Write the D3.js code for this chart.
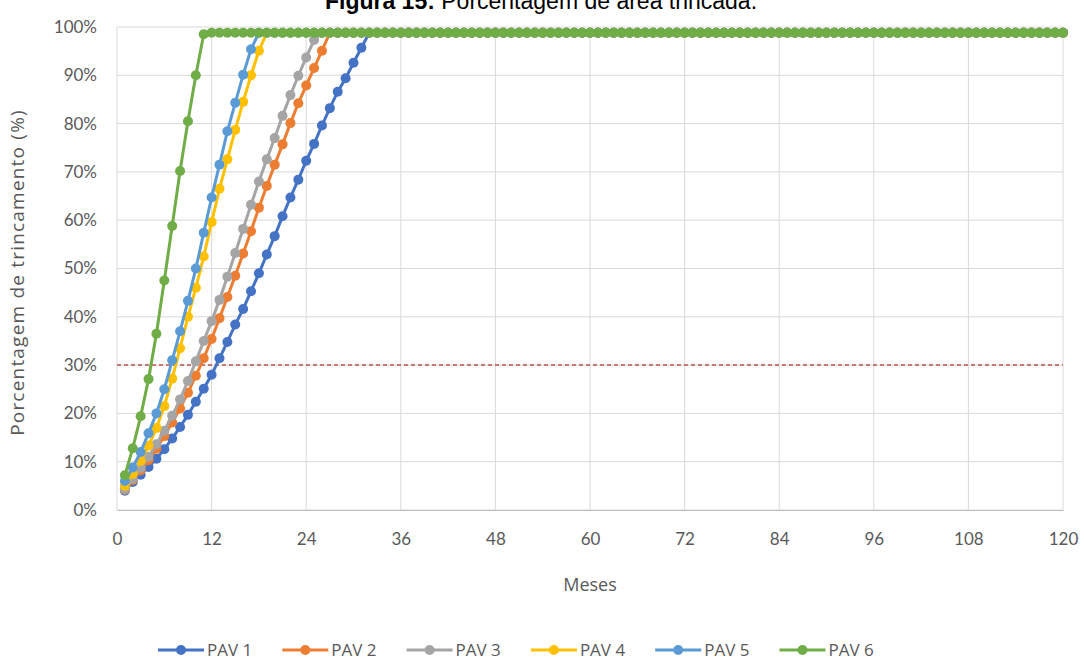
<!DOCTYPE html>
<html>
<head>
<meta charset="utf-8">
<script src="https://cdn.jsdelivr.net/npm/d3@7/dist/d3.min.js"></script>
<style>
  html, body { margin: 0; padding: 0; background: #ffffff; }
  svg { display: block; }
  text { font-family: Lato, "Open Sans", sans-serif; }
</style>
</head>
<body>
<svg id="chart" width="1084" height="663"></svg>
<script>
// ---------- DATA ----------
const seriesNames = ["PAV 1", "PAV 2", "PAV 3", "PAV 4", "PAV 5", "PAV 6"];
const seriesColors = ["#4472C4", "#ED7D31", "#A5A5A5", "#FFC000", "#5B9BD5", "#70AD47"];
const months = [
  1,2,3,4,5,6,7,8,9,10,11,12,13,14,15,16,17,18,19,20,
  21,22,23,24,25,26,27,28,29,30,31,32,33,34,35,36,37,38,39,40,
  41,42,43,44,45,46,47,48,49,50,51,52,53,54,55,56,57,58,59,60,
  61,62,63,64,65,66,67,68,69,70,71,72,73,74,75,76,77,78,79,80,
  81,82,83,84,85,86,87,88,89,90,91,92,93,94,95,96,97,98,99,100,
  101,102,103,104,105,106,107,108,109,110,111,112,113,114,115,116,117,118,119,120
];
const pav1 = [
  4.0,5.8,7.3,8.9,10.6,12.6,14.8,17.2,19.7,22.4,25.1,28.0,31.4,34.8,38.4,41.6,45.3,49.0,52.9,56.7,
  60.8,64.7,68.4,72.3,75.8,79.6,83.2,86.6,89.4,92.6,95.7,98.8,98.8,98.8,98.8,98.8,98.8,98.8,98.8,98.8,
  98.8,98.8,98.8,98.8,98.8,98.8,98.8,98.8,98.8,98.8,98.8,98.8,98.8,98.8,98.8,98.8,98.8,98.8,98.8,98.8,
  98.8,98.8,98.8,98.8,98.8,98.8,98.8,98.8,98.8,98.8,98.8,98.8,98.8,98.8,98.8,98.8,98.8,98.8,98.8,98.8,
  98.8,98.8,98.8,98.8,98.8,98.8,98.8,98.8,98.8,98.8,98.8,98.8,98.8,98.8,98.8,98.8,98.8,98.8,98.8,98.8,
  98.8,98.8,98.8,98.8,98.8,98.8,98.8,98.8,98.8,98.8,98.8,98.8,98.8,98.8,98.8,98.8,98.8,98.8,98.8,98.8
];
const pav2 = [
  4.2,6.2,8.2,10.3,12.7,15.3,18.1,21.0,24.3,27.8,31.4,35.4,39.7,44.1,48.5,53.1,57.7,62.6,67.1,71.5,
  75.7,80.1,84.2,87.9,91.5,95.1,98.8,98.8,98.8,98.8,98.8,98.8,98.8,98.8,98.8,98.8,98.8,98.8,98.8,98.8,
  98.8,98.8,98.8,98.8,98.8,98.8,98.8,98.8,98.8,98.8,98.8,98.8,98.8,98.8,98.8,98.8,98.8,98.8,98.8,98.8,
  98.8,98.8,98.8,98.8,98.8,98.8,98.8,98.8,98.8,98.8,98.8,98.8,98.8,98.8,98.8,98.8,98.8,98.8,98.8,98.8,
  98.8,98.8,98.8,98.8,98.8,98.8,98.8,98.8,98.8,98.8,98.8,98.8,98.8,98.8,98.8,98.8,98.8,98.8,98.8,98.8,
  98.8,98.8,98.8,98.8,98.8,98.8,98.8,98.8,98.8,98.8,98.8,98.8,98.8,98.8,98.8,98.8,98.8,98.8,98.8,98.8
];
const pav3 = [
  4.3,6.5,8.7,11.0,13.6,16.4,19.5,22.9,26.7,30.8,35.0,39.1,43.5,48.3,53.2,58.2,63.2,68.0,72.6,77.0,
  81.6,85.9,89.9,93.7,97.3,98.8,98.8,98.8,98.8,98.8,98.8,98.8,98.8,98.8,98.8,98.8,98.8,98.8,98.8,98.8,
  98.8,98.8,98.8,98.8,98.8,98.8,98.8,98.8,98.8,98.8,98.8,98.8,98.8,98.8,98.8,98.8,98.8,98.8,98.8,98.8,
  98.8,98.8,98.8,98.8,98.8,98.8,98.8,98.8,98.8,98.8,98.8,98.8,98.8,98.8,98.8,98.8,98.8,98.8,98.8,98.8,
  98.8,98.8,98.8,98.8,98.8,98.8,98.8,98.8,98.8,98.8,98.8,98.8,98.8,98.8,98.8,98.8,98.8,98.8,98.8,98.8,
  98.8,98.8,98.8,98.8,98.8,98.8,98.8,98.8,98.8,98.8,98.8,98.8,98.8,98.8,98.8,98.8,98.8,98.8,98.8,98.8
];
const pav4 = [
  5.0,7.5,10.2,13.3,17.0,21.5,27.2,33.5,40.0,46.0,52.5,59.6,66.5,72.6,78.7,84.5,90.0,95.1,98.8,98.8,
  98.8,98.8,98.8,98.8,98.8,98.8,98.8,98.8,98.8,98.8,98.8,98.8,98.8,98.8,98.8,98.8,98.8,98.8,98.8,98.8,
  98.8,98.8,98.8,98.8,98.8,98.8,98.8,98.8,98.8,98.8,98.8,98.8,98.8,98.8,98.8,98.8,98.8,98.8,98.8,98.8,
  98.8,98.8,98.8,98.8,98.8,98.8,98.8,98.8,98.8,98.8,98.8,98.8,98.8,98.8,98.8,98.8,98.8,98.8,98.8,98.8,
  98.8,98.8,98.8,98.8,98.8,98.8,98.8,98.8,98.8,98.8,98.8,98.8,98.8,98.8,98.8,98.8,98.8,98.8,98.8,98.8,
  98.8,98.8,98.8,98.8,98.8,98.8,98.8,98.8,98.8,98.8,98.8,98.8,98.8,98.8,98.8,98.8,98.8,98.8,98.8,98.8
];
const pav5 = [
  6.0,8.8,12.0,15.9,20.0,25.0,31.0,37.0,43.3,50.0,57.4,64.7,71.5,78.4,84.3,90.1,95.4,98.8,98.8,98.8,
  98.8,98.8,98.8,98.8,98.8,98.8,98.8,98.8,98.8,98.8,98.8,98.8,98.8,98.8,98.8,98.8,98.8,98.8,98.8,98.8,
  98.8,98.8,98.8,98.8,98.8,98.8,98.8,98.8,98.8,98.8,98.8,98.8,98.8,98.8,98.8,98.8,98.8,98.8,98.8,98.8,
  98.8,98.8,98.8,98.8,98.8,98.8,98.8,98.8,98.8,98.8,98.8,98.8,98.8,98.8,98.8,98.8,98.8,98.8,98.8,98.8,
  98.8,98.8,98.8,98.8,98.8,98.8,98.8,98.8,98.8,98.8,98.8,98.8,98.8,98.8,98.8,98.8,98.8,98.8,98.8,98.8,
  98.8,98.8,98.8,98.8,98.8,98.8,98.8,98.8,98.8,98.8,98.8,98.8,98.8,98.8,98.8,98.8,98.8,98.8,98.8,98.8
];
const pav6 = [
  7.2,12.8,19.4,27.1,36.5,47.5,58.8,70.2,80.5,90.0,98.5,98.8,98.8,98.8,98.8,98.8,98.8,98.8,98.8,98.8,
  98.8,98.8,98.8,98.8,98.8,98.8,98.8,98.8,98.8,98.8,98.8,98.8,98.8,98.8,98.8,98.8,98.8,98.8,98.8,98.8,
  98.8,98.8,98.8,98.8,98.8,98.8,98.8,98.8,98.8,98.8,98.8,98.8,98.8,98.8,98.8,98.8,98.8,98.8,98.8,98.8,
  98.8,98.8,98.8,98.8,98.8,98.8,98.8,98.8,98.8,98.8,98.8,98.8,98.8,98.8,98.8,98.8,98.8,98.8,98.8,98.8,
  98.8,98.8,98.8,98.8,98.8,98.8,98.8,98.8,98.8,98.8,98.8,98.8,98.8,98.8,98.8,98.8,98.8,98.8,98.8,98.8,
  98.8,98.8,98.8,98.8,98.8,98.8,98.8,98.8,98.8,98.8,98.8,98.8,98.8,98.8,98.8,98.8,98.8,98.8,98.8,98.8
];
const seriesValues = [pav1, pav2, pav3, pav4, pav5, pav6];
const thresholdValue = 30;
const xTicks = [0, 12, 24, 36, 48, 60, 72, 84, 96, 108, 120];
const yTicks = [0, 10, 20, 30, 40, 50, 60, 70, 80, 90, 100];
const titleBold = "Figura 15:";
const titleRest = " Porcentagem de área trincada.";
const xTitle = "Meses";
const yTitle = "Porcentagem de trincamento (%)";

// ---------- LAYOUT ----------
const plot = { left: 117, right: 1063, top: 27, bottom: 510 };
const svg = d3.select("#chart");

const x = d3.scaleLinear().domain([0, 120]).range([plot.left, plot.right]);
const y = d3.scaleLinear().domain([0, 100]).range([plot.bottom, plot.top]);

// title (partly cut off at the top, as in the reference)
const title = svg.append("text")
  .attr("x", 541).attr("y", 9)
  .attr("text-anchor", "middle")
  .style("font-family", "'Liberation Sans', Arial, sans-serif")
  .style("font-size", "23px")
  .attr("fill", "#000");
title.append("tspan").style("font-weight", "bold").text(titleBold);
title.append("tspan").text(titleRest);

// gridlines
const grid = svg.append("g");
grid.selectAll("line.h").data(yTicks).join("line")
  .attr("x1", plot.left).attr("x2", plot.right)
  .attr("y1", d => y(d)).attr("y2", d => y(d))
  .attr("stroke", "#d9d9d9").attr("stroke-width", 1);
grid.selectAll("line.v").data(xTicks).join("line")
  .attr("x1", d => x(d)).attr("x2", d => x(d))
  .attr("y1", plot.top).attr("y2", plot.bottom)
  .attr("stroke", "#d9d9d9").attr("stroke-width", 1);

// axes
const yAxis = d3.axisLeft(y).tickValues(yTicks).tickFormat(d => d + "%").tickSize(0).tickPadding(20);
const gy = svg.append("g").attr("transform", `translate(${plot.left},0)`).call(yAxis);
gy.select(".domain").remove();
gy.selectAll("text").style("font-size", "17px").attr("fill", "#595959").style("font-family", "Lato, sans-serif");

const xAxis = d3.axisBottom(x).tickValues(xTicks).tickFormat(d3.format("d")).tickSize(0).tickPadding(23);
const gx = svg.append("g").attr("transform", `translate(0,${plot.bottom})`).call(xAxis);
gx.select(".domain").attr("stroke", "#bfbfbf");
gx.selectAll("text").style("font-size", "17px").attr("fill", "#595959").style("font-family", "Lato, sans-serif");

// axis titles
svg.append("text")
  .attr("x", (plot.left + plot.right) / 2).attr("y", 591)
  .attr("text-anchor", "middle")
  .style("font-size", "18px").attr("fill", "#595959")
  .style("font-family", "'Open Sans', sans-serif")
  .text(xTitle);
svg.append("text")
  .attr("transform", `translate(24,${(plot.top + plot.bottom) / 2 + 4}) rotate(-90)`)
  .attr("text-anchor", "middle")
  .style("font-size", "19px").attr("fill", "#595959")
  .style("font-family", "'Open Sans', sans-serif")
  .style("letter-spacing", "1.2px")
  .text(yTitle);

// threshold dashed line
svg.append("line")
  .attr("x1", x(0)).attr("x2", x(120))
  .attr("y1", y(thresholdValue)).attr("y2", y(thresholdValue))
  .attr("stroke", "#c0504d").attr("stroke-width", 1.5)
  .attr("stroke-dasharray", "4,3");

// series
const line = d3.line().x(d => x(d[0])).y(d => y(d[1]));
seriesValues.forEach((vals, i) => {
  const pts = months.map((m, j) => [m, vals[j]]);
  const g = svg.append("g");
  g.append("path").datum(pts)
    .attr("d", line)
    .attr("fill", "none")
    .attr("stroke", seriesColors[i])
    .attr("stroke-width", 3);
  g.selectAll("circle").data(pts).join("circle")
    .attr("cx", d => x(d[0])).attr("cy", d => y(d[1]))
    .attr("r", 5)
    .attr("fill", seriesColors[i]);
});

// legend
const legendY = 650;
const legendStart = 181;
const legendStep = 124.3;
seriesNames.forEach((name, i) => {
  const cx = legendStart + i * legendStep;
  const g = svg.append("g");
  g.append("line")
    .attr("x1", cx - 23).attr("x2", cx + 23)
    .attr("y1", legendY).attr("y2", legendY)
    .attr("stroke", seriesColors[i]).attr("stroke-width", 3);
  g.append("circle").attr("cx", cx).attr("cy", legendY).attr("r", 5).attr("fill", seriesColors[i]);
  g.append("text")
    .attr("x", cx + 26).attr("y", legendY)
    .attr("dy", "0.35em")
    .style("font-size", "17px").attr("fill", "#595959")
    .style("font-family", "'Open Sans', sans-serif")
    .text(name);
});
</script>
</body>
</html>
